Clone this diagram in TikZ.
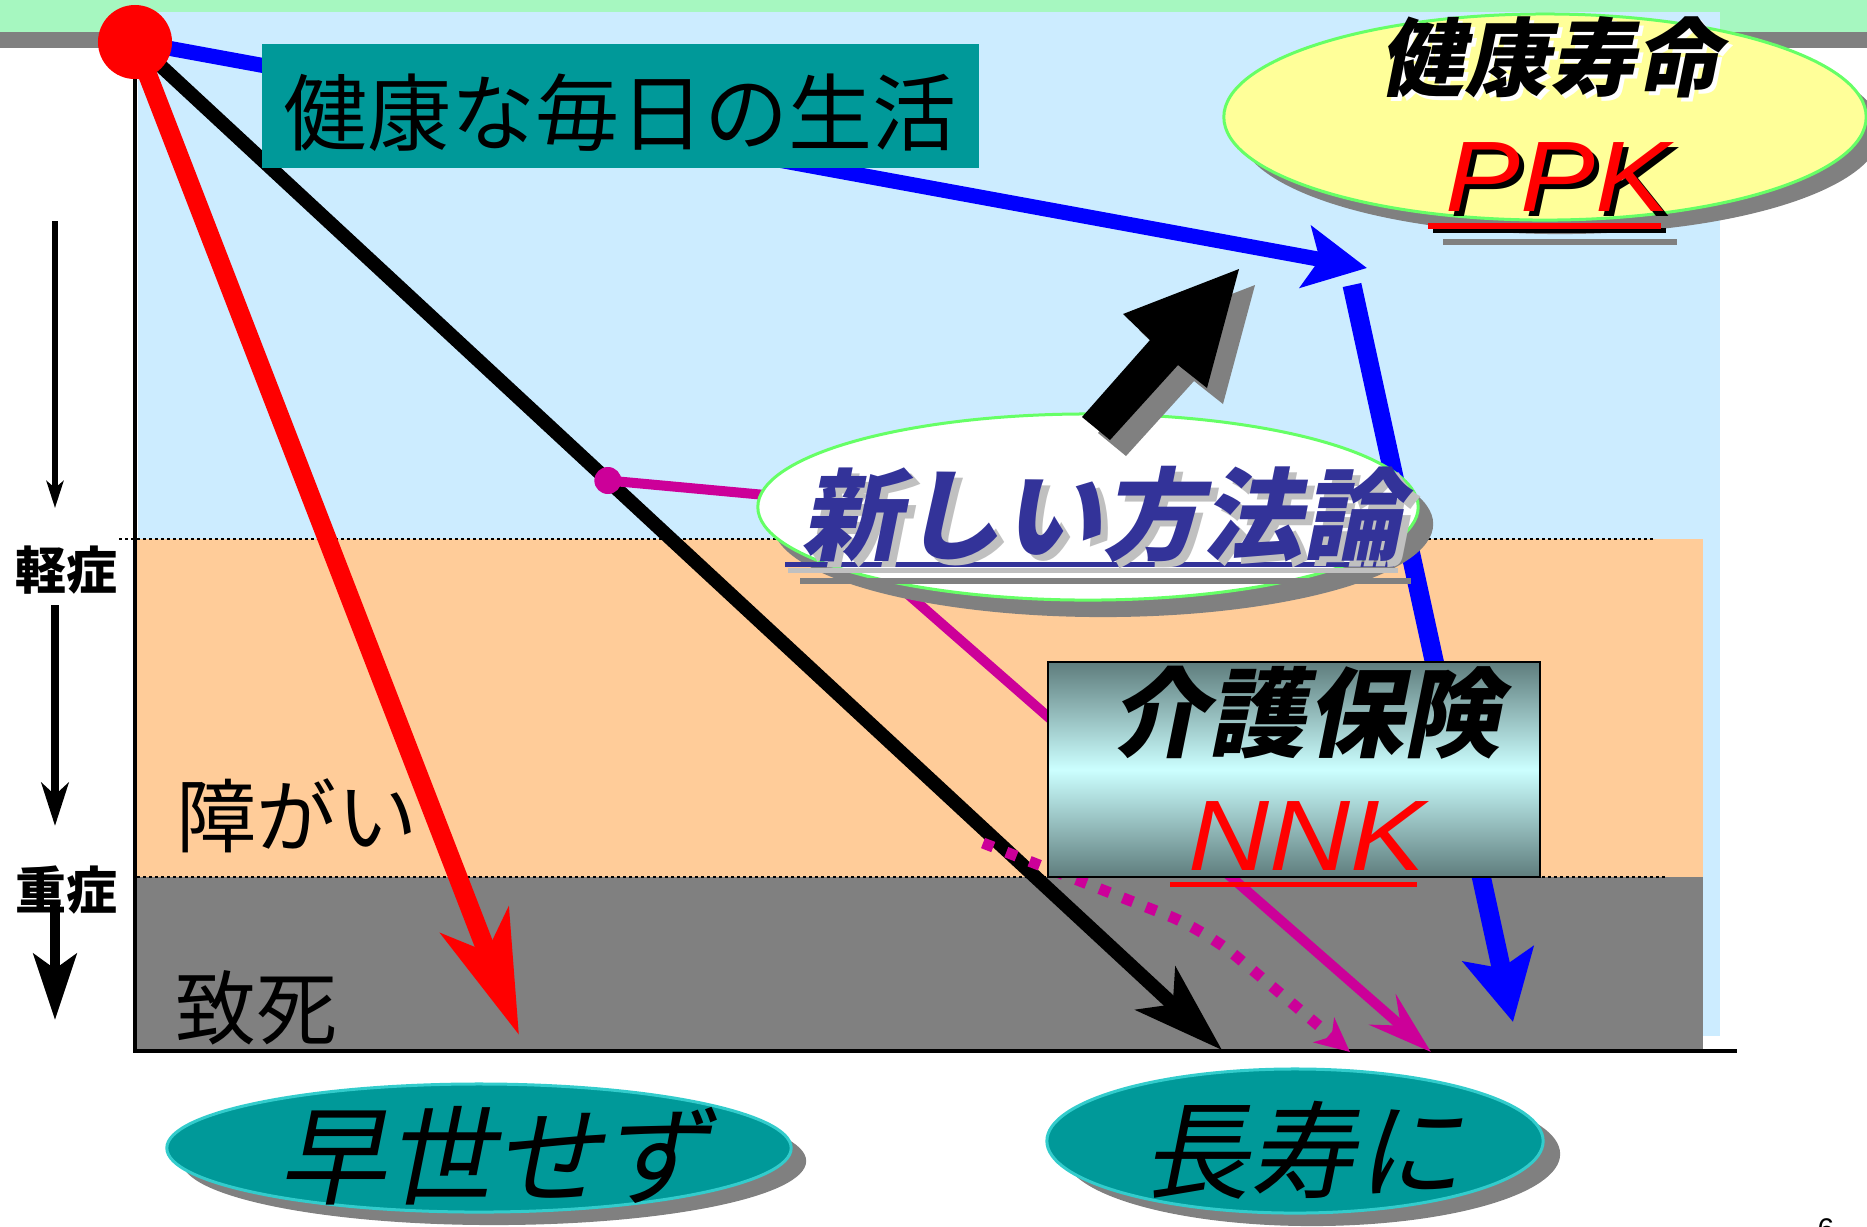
\documentclass[tikz,border=0pt]{standalone}
\usepackage{fontspec}
\setmainfont{Liberation Sans}
\newfontfamily\jp{Noto Sans CJK JP}
\newfontfamily\jpit[FakeSlant=0.2]{Noto Sans CJK JP}
\newfontfamily\latw[FakeStretch=1.12]{Liberation Sans}
\usetikzlibrary{arrows.meta,shapes.geometric,calc}
\definecolor{mint}{RGB}{166,247,192}
\definecolor{lblue}{RGB}{204,236,255}
\definecolor{orng}{RGB}{255,204,153}
\definecolor{zgray}{RGB}{128,128,128}
\definecolor{tealc}{RGB}{0,153,153}
\definecolor{tealedge}{RGB}{51,204,204}
\definecolor{lyellow}{RGB}{255,255,153}
\definecolor{lgreen}{RGB}{102,255,102}
\definecolor{navyt}{RGB}{51,51,153}
\definecolor{magc}{RGB}{204,0,153}
\definecolor{slate}{RGB}{95,125,125}
\definecolor{icecyan}{RGB}{204,255,255}
\definecolor{ltgray}{RGB}{192,192,192}
\tikzset{
  bare/.style={inner sep=0pt, outer sep=0pt},
  zoneline/.style={line width=0.02cm, dash pattern=on 0.03cm off 0.03cm},
}
\begin{document}
\begin{tikzpicture}[x=0.01cm,y=-0.01cm]
\useasboundingbox (0,0) rectangle (1867,1226);
\begin{scope}
\clip (0,0) rectangle (1867,1226);
% background bands
\fill[mint] (0,0) rectangle (1867,32);
\fill[zgray] (0,32) rectangle (1867,48);
\fill[lblue] (138,12) rectangle (1720,1036);
\fill[orng] (137,539) rectangle (1703,877);
\fill[zgray] (137,877) rectangle (1703,1051);
\draw[zoneline] (119,539) -- (1655,539);
\draw[zoneline] (137,877) -- (1667,877);
\draw[line width=0.04cm] (135,60) -- (135,1051) -- (1737,1051);

% left scale
\node[bare, font=\jp\bfseries\fontsize{14.5pt}{15pt}\selectfont] (mild) at (66,570) {軽症};
\node[bare, font=\jp\bfseries\fontsize{14.5pt}{15pt}\selectfont] (severe) at (66,890) {重症};
\coordinate (a1s) at (55,221);
\coordinate (a1e) at (55,508);
\coordinate (a2s) at (55,605);
\coordinate (a2e) at (55,826);
\coordinate (a3s) at (55,905);
\coordinate (a3e) at (55,1020);
\draw[line width=0.06cm, -{Stealth[length=0.27cm,width=0.17cm,inset=0.07cm]}] (a1s) -- (a1e);
\draw[line width=0.08cm, -{Stealth[length=0.43cm,width=0.27cm,inset=0.12cm]}] (a2s) -- (a2e);
\draw[line width=0.10cm, -{Stealth[length=0.66cm,width=0.43cm,inset=0.15cm]}] (a3s) -- (a3e);

% zone labels
\node[bare, font=\jp\fontsize{22.8pt}{23pt}\selectfont] (disab) at (297,816) {障がい};
\node[bare, font=\jp\fontsize{23pt}{23pt}\selectfont] (death) at (256,1008) {致死};

% key points
\coordinate (O) at (135,42);
\coordinate (redtip) at (519,1035);
\coordinate (blacktip) at (1222,1050);
\coordinate (b1tip) at (1367,268);
\coordinate (b2s) at (1352,285);
\coordinate (b2tip) at (1513,1022);
\coordinate (mdot) at ($(O)!0.435!(blacktip)$);
\coordinate (mbend) at (798,498);
\coordinate (mtip) at (1431,1052);
\coordinate (ds) at (983,843);
\coordinate (dm) at (1205,930);
\coordinate (dtip) at (1350,1052);

% trajectories
\draw[blue, line width=0.15cm, -{Stealth[length=0.62cm,width=0.62cm,inset=0.14cm]}] (O) -- (b1tip);
\draw[blue, line width=0.19cm, -{Stealth[length=0.69cm,width=0.71cm,inset=0.14cm]}] (b2s) -- (b2tip);
\draw[black, line width=0.14cm, -{Stealth[length=0.9cm,width=0.58cm,inset=0.23cm]}] (O) -- (blacktip);
\draw[red, line width=0.19cm, -{Stealth[length=1.22cm,width=0.72cm,inset=0.33cm]}] (O) -- (redtip);
\draw[magc, line width=0.10cm, -{Stealth[length=0.64cm,width=0.40cm,inset=0.24cm]}] (mdot) -- (mbend) -- (mtip);
\draw[magc, line width=0.11cm, dash pattern=on 0.11cm off 0.14cm, rounded corners=0.4cm, -{Stealth[length=0.34cm,width=0.32cm,inset=0.10cm]}] (ds) -- (dm) -- (dtip);
\node[circle, fill=magc, minimum size=0.27cm, bare] (mdotn) at (mdot) {};

% title box
\node[rectangle, fill=tealc, minimum width=7.17cm, minimum height=1.24cm, bare] (dailybox) at (620.5,106) {};
\node[bare, font=\jp\fontsize{23.9pt}{24pt}\selectfont] (dailytxt) at (620,113) {健康な毎日の生活};

% PPK ellipse
\node[ellipse, fill=zgray, minimum width=6.42cm, minimum height=2.06cm, bare] (ppkshadow) at (1560,131) {};
\node[ellipse, fill=lyellow, draw=lgreen, line width=0.03cm, minimum width=6.42cm, minimum height=2.06cm, bare] (ppkell) at (1545,117) {};
\node[bare, white, font=\jpit\bfseries\fontsize{24.2pt}{25pt}\selectfont] (hlshadow) at (1554,61) {健康寿命};
\node[bare, black, font=\jpit\bfseries\fontsize{24.2pt}{25pt}\selectfont] (hltxt) at (1550,57) {健康寿命};
\fill[zgray] (1443,239) rectangle (1677,245);
\fill[black] (1433,228) rectangle (1666,233);
\fill[red] (1428,223) rectangle (1661,229);
\node[bare, black, font=\latw\itshape\fontsize{28.5pt}{29pt}\selectfont] (ppkshtxt) at (1563,182) {PPK};
\node[bare, red, font=\latw\itshape\fontsize{28.5pt}{29pt}\selectfont] (ppktxt) at (1558,177) {PPK};

% new methodology ellipse
\node[ellipse, fill=zgray, minimum width=6.6cm, minimum height=1.86cm, bare] (newshadow) at (1103,524) {};
\node[ellipse, fill=white, draw=lgreen, line width=0.03cm, minimum width=6.6cm, minimum height=1.86cm, bare] (newell) at (1088,507) {};
\fill[zgray] (800,578) rectangle (1411,584);
\fill[ltgray] (788,568) rectangle (1398,573);
\fill[navyt] (785,562) rectangle (1394,567);
\node[bare, ltgray, font=\jpit\bfseries\fontsize{28.5pt}{29pt}\selectfont] (newshtxt) at (1109,521) {新しい方法論};
\node[bare, navyt, font=\jpit\bfseries\fontsize{28.5pt}{29pt}\selectfont] (newtxt) at (1102,515) {新しい方法論};

% care insurance box
\shade[top color=slate, bottom color=slate, middle color=icecyan] (1048,662) rectangle (1540,877);
\node[rectangle, draw=black, line width=0.02cm, minimum width=4.92cm, minimum height=2.15cm, bare] (carebox) at (1294,769.5) {};
\node[bare, font=\jpit\bfseries\fontsize{27.6pt}{28pt}\selectfont] (caretxt) at (1306,713) {介護保険};
\node[bare, red, font=\latw\itshape\fontsize{28.5pt}{29pt}\selectfont] (nnktxt) at (1307,836) {NNK};
\fill[red] (1170,882) rectangle (1417,887);

% block arrow
\fill[zgray] (1098,433) -- (1166,356) -- (1139,330) -- (1255,285) -- (1223,404) -- (1194,381) -- (1126,456) -- cycle;
\fill[black] (1082,417) -- (1150,340) -- (1123,314) -- (1239,269) -- (1207,388) -- (1178,365) -- (1110,440) -- cycle;

% origin dot
\node[circle, fill=red, minimum size=0.74cm, bare] (origin) at (O) {};

% bottom ellipses
\node[ellipse, fill=zgray, minimum width=6.24cm, minimum height=1.28cm, bare] (earlyshadow) at (494,1161) {};
\node[ellipse, fill=tealc, draw=tealedge, line width=0.03cm, minimum width=6.24cm, minimum height=1.28cm, bare] (earlyell) at (479,1148) {};
\node[bare, font=\jpit\fontsize{30.7pt}{31pt}\selectfont] (earlytxt) at (494,1156) {早世せず};
\node[ellipse, fill=zgray, minimum width=4.96cm, minimum height=1.44cm, bare] (longshadow) at (1312,1154) {};
\node[ellipse, fill=tealc, draw=tealedge, line width=0.03cm, minimum width=4.96cm, minimum height=1.44cm, bare] (longell) at (1295,1141) {};
\node[bare, font=\jpit\fontsize{30.2pt}{31pt}\selectfont] (longtxt) at (1303,1150) {長寿に};

% page number
\node[bare, font=\fontsize{8.5pt}{9pt}\selectfont] (pageno) at (1826,1229) {6};
\end{scope}
\end{tikzpicture}
\end{document}
